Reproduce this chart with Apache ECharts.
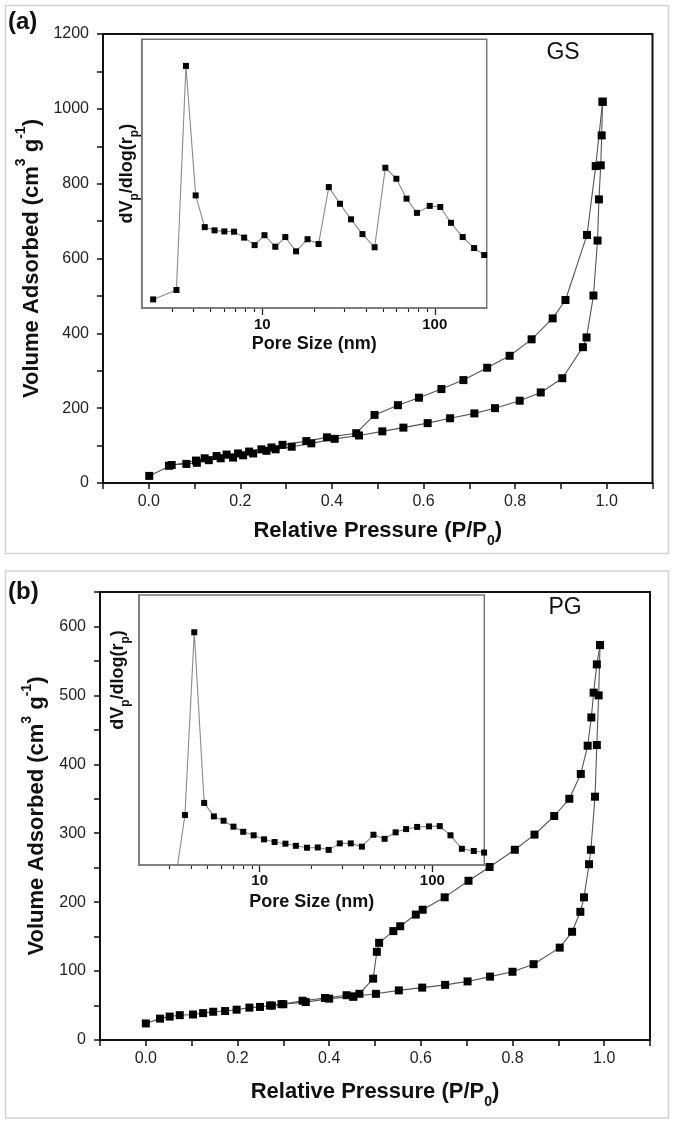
<!DOCTYPE html>
<html>
<head>
<meta charset="utf-8">
<script src="https://cdn.jsdelivr.net/npm/echarts@6/dist/echarts.min.js"></script>
<style>
html,body{margin:0;padding:0;background:#fff;}
#c{width:676px;height:1126px;}
</style>
</head>
<body>
<div id="c"></div>
<script>
// ---------- DATA ----------
// Panel (a) GS isotherm
const gsAdsP = [0.001,0.050,0.082,0.105,0.131,0.157,0.184,0.206,0.228,0.257,0.277,0.312,0.355,0.406,0.459,0.510,0.556,0.609,0.658,0.711,0.756,0.810,0.856,0.903,0.948,0.956,0.971,0.980,0.983,0.987,0.989,0.991];
const gsAdsV = [19,48,51,54,61,66,68,74,79,86,90,97,106,118,127,138,148,160,173,186,200,220,242,280,363,389,501,648,758,849,929,1019];
const gsDesP = [0.991,0.976,0.957,0.910,0.882,0.836,0.788,0.739,0.687,0.639,0.590,0.544,0.493,0.453,0.389,0.344,0.292,0.268,0.246,0.219,0.195,0.170,0.148,0.122,0.103,0.044];
const gsDesV = [1019,847,663,489,440,384,340,308,275,251,228,208,182,133,122,112,102,95,90,84,79,76,72,66,60,46];
// Panel (a) inset: pore size distribution (arbitrary units)
const gsPore = [2.33,3.18,3.61,4.11,4.64,5.29,6.03,6.86,7.85,9.03,10.3,11.9,13.6,15.7,18.3,21.2,24.3,28.2,32.7,38.1,44.8,51.7,59.9,68.6,78.8,93.5,107.6,124.2,145.2,169.1,193.5];
const gsDist = [3.2,6.7,90.1,41.9,30.1,28.9,28.5,28.4,26.2,23.4,27.1,22.8,26.4,21.1,25.6,23.8,45.0,38.8,33.0,27.5,22.6,52.2,48.1,40.7,35.4,38.0,37.6,31.7,26.4,22.3,19.7];
// Panel (b) PG isotherm
const pgAdsP = [0.000,0.031,0.052,0.074,0.103,0.125,0.147,0.173,0.198,0.226,0.249,0.271,0.296,0.349,0.400,0.452,0.502,0.552,0.603,0.653,0.702,0.751,0.800,0.846,0.903,0.930,0.948,0.956,0.967,0.971,0.980,0.984,0.988,0.991];
const pgAdsV = [24,31,34,36,37,39,41,42,44,47,48,50,52,55,60,63,67,72,76,80,85,92,99,110,134,157,186,207,255,276,353,428,500,573];
const pgDesP = [0.991,0.984,0.977,0.972,0.964,0.949,0.924,0.891,0.848,0.805,0.750,0.704,0.652,0.604,0.589,0.555,0.540,0.509,0.504,0.496,0.466,0.453,0.438,0.391,0.342,0.300,0.275];
const pgDesV = [573,545,504,468,427,386,350,325,298,276,251,231,207,189,182,165,158,141,128,89,67,63,65,61,57,52,50];
// Panel (b) inset
const pgPore = [3.26,3.69,4.18,4.77,5.43,6.18,7.05,8.03,9.23,10.6,12.2,14.1,16.2,18.8,21.7,25.1,29.1,33.7,39.1,45.6,52.9,61.3,70.5,81.7,95.7,110.4,127.4,148.3,173.8,199.5];
const pgDist = [-5,18.5,86.2,23.0,18.0,16.4,14.2,12.3,11.0,9.5,8.5,7.9,7.1,6.4,6.5,5.6,8.0,8.0,6.8,11.2,9.7,12.1,13.3,14.1,14.3,14.4,11.0,6.0,5.2,4.6];
// Tick values
const insetMajorTicks = [10, 100];
const insetMinorTicks = [3,4,5,6,7,8,9,20,30,40,50,60,70,80,90];
const panelLabels = ['(a)', '(b)'];
const sampleNames = ['GS', 'PG'];
const xTitle = '{t|Relative Pressure (P/P}{sub|0}{t|)}';
const yTitle = '{t|Volume Adsorbed (cm}{sup|3}{t| g}{sup|-1}{t|)}';
const insetXTitle = 'Pore Size (nm)';
const insetYTitle = '{t|dV}{s|p}{t|/dlog(r}{s|p}{t|)}';

// ---------- HELPERS ----------
const FF = '"Liberation Sans", Arial, sans-serif';
const zip = (a, b) => a.map((v, i) => [v, b[i]]);

const richX = {
  t: {fontFamily: FF, fontSize: 22, fontWeight: 'bold', color: '#111', lineHeight: 22, verticalAlign: 'top'},
  sub: {fontFamily: FF, fontSize: 14, fontWeight: 'bold', color: '#111', lineHeight: 14, padding: [14,0,0,0], verticalAlign: 'top'}
};
const richY = {
  t: {fontFamily: FF, fontSize: 22, fontWeight: 'bold', color: '#111', lineHeight: 22, padding: [6,0,0,0], verticalAlign: 'top'},
  sup: {fontFamily: FF, fontSize: 14, fontWeight: 'bold', color: '#111', lineHeight: 14, verticalAlign: 'top'}
};
const richInY = {
  t: {fontFamily: FF, fontSize: 18, fontWeight: 'bold', color: '#111', lineHeight: 18, verticalAlign: 'top'},
  s: {fontFamily: FF, fontSize: 12, fontWeight: 'bold', color: '#111', lineHeight: 12, padding: [11,0,0,0], verticalAlign: 'top'}
};

function mainX(gridIndex, gap) {
  return {
    type: 'value', gridIndex, min: -0.1, max: 1.1, interval: 0.1,
    axisLine: {show: true, onZero: false, lineStyle: {color: '#111', width: 2}},
    axisTick: {show: true, length: 6, lineStyle: {color: '#111', width: 1.5}},
    axisLabel: {
      fontFamily: FF, fontSize: 16, color: '#222', margin: 11,
      formatter: v => (Math.round(v * 10) % 2 === 0 && v > -0.05 && v < 1.05) ? v.toFixed(1) : ''
    },
    splitLine: {show: false},
    name: xTitle, nameLocation: 'middle', nameGap: gap,
    nameTextStyle: {rich: richX}
  };
}
function mainY(gridIndex, max, labelStep, labelMax) {
  return {
    type: 'value', gridIndex, min: 0, max: max, interval: labelStep / 2,
    axisLine: {show: true, onZero: false, lineStyle: {color: '#111', width: 2}},
    axisTick: {show: true, length: 6, lineStyle: {color: '#111', width: 1.5}},
    axisLabel: {
      fontFamily: FF, fontSize: 16, color: '#222', margin: 14,
      formatter: v => (Math.round(v) % labelStep === 0 && v <= labelMax) ? String(Math.round(v)) : ''
    },
    splitLine: {show: false},
    name: yTitle, nameLocation: 'middle', nameGap: 58,
    nameTextStyle: {rich: richY}
  };
}
function insetXMajor(gridIndex, gap, margin) {
  return {
    type: 'log', logBase: 10, gridIndex, min: 2, max: 200, position: 'bottom',
    axisLine: {show: true, onZero: false, lineStyle: {color: '#777', width: 1.5}},
    axisTick: {show: true, length: 7, customValues: insetMajorTicks, lineStyle: {color: '#222', width: 1.3}},
    axisLabel: {show: true, customValues: insetMajorTicks, fontFamily: FF, fontSize: 15, fontWeight: 'bold', color: '#111', margin: margin},
    splitLine: {show: false}, minorTick: {show: false},
    name: insetXTitle, nameLocation: 'middle', nameGap: gap,
    nameTextStyle: {fontFamily: FF, fontSize: 18, fontWeight: 'bold', color: '#111'}
  };
}
function insetXMinor(gridIndex) {
  return {
    type: 'log', logBase: 10, gridIndex, min: 2, max: 200, position: 'bottom',
    axisLine: {show: false},
    axisTick: {show: true, length: 4, customValues: insetMinorTicks, lineStyle: {color: '#222', width: 1.1}},
    axisLabel: {show: false}, splitLine: {show: false}
  };
}
function insetY(gridIndex, gap, shift) {
  return {
    type: 'value', gridIndex, min: 0, max: 100,
    axisLine: {show: true, lineStyle: {color: '#777', width: 1.5}},
    axisTick: {show: false}, axisLabel: {show: false}, splitLine: {show: false},
    name: insetYTitle, nameLocation: 'middle', nameGap: gap,
    nameTextStyle: {rich: richInY, padding: [0, 0, 0, shift]}
  };
}
function isoSeries(name, xi, yi, P, V) {
  return {
    name, type: 'line', xAxisIndex: xi, yAxisIndex: yi,
    data: zip(P, V), symbol: 'rect', symbolSize: 8, showSymbol: true,
    itemStyle: {color: '#000'}, lineStyle: {color: '#555', width: 1.1},
    clip: false, z: 3
  };
}
function psdSeries(name, xi, yi, D, Y, size) {
  return {
    name, type: 'line', xAxisIndex: xi, yAxisIndex: yi,
    data: zip(D, Y), symbol: 'rect', symbolSize: size, showSymbol: true,
    itemStyle: {color: '#000'}, lineStyle: {color: '#8a8a8a', width: 1.1},
    clip: true, z: 4
  };
}

const chart = echarts.init(document.getElementById('c'), null, {renderer: 'canvas'});
chart.setOption({
  animation: false,
  backgroundColor: '#fff',
  grid: [
    {left: 103, top: 34, width: 549.5, height: 449, show: true, borderColor: '#111', borderWidth: 2, backgroundColor: 'transparent'},
    {left: 141.7, top: 39.3, width: 345, height: 268.7, show: true, borderColor: '#777', borderWidth: 1.5, backgroundColor: 'transparent', z: 3},
    {left: 100, top: 592, width: 550, height: 448, show: true, borderColor: '#111', borderWidth: 2, backgroundColor: 'transparent'},
    {left: 139, top: 595, width: 345.3, height: 270, show: true, borderColor: '#777', borderWidth: 1.5, backgroundColor: 'transparent', z: 3}
  ],
  xAxis: [
    mainX(0, 37),
    insetXMajor(1, 27, 9),
    insetXMinor(1),
    mainX(2, 41),
    insetXMajor(3, 28, 8),
    insetXMinor(3)
  ],
  yAxis: [
    mainY(0, 1200, 200, 1200),
    insetY(1, 6, 0),
    mainY(2, 650, 100, 600),
    insetY(3, 12, 100)
  ],
  series: [
    isoSeries('GS adsorption', 0, 0, gsAdsP, gsAdsV),
    isoSeries('GS desorption', 0, 0, gsDesP, gsDesV),
    psdSeries('GS PSD', 1, 1, gsPore, gsDist, 6),
    isoSeries('PG adsorption', 3, 2, pgAdsP, pgAdsV),
    isoSeries('PG desorption', 3, 2, pgDesP, pgDesV),
    psdSeries('PG PSD', 4, 3, pgPore, pgDist, 6)
  ],
  graphic: [
    {type: 'rect', z: -10, shape: {x: 5.5, y: 5.5, width: 663, height: 548}, style: {fill: 'none', stroke: '#d2d2d2', lineWidth: 1.5}},
    {type: 'rect', z: -10, shape: {x: 5.5, y: 571, width: 663, height: 547}, style: {fill: 'none', stroke: '#d2d2d2', lineWidth: 1.5}},
    {type: 'text', x: 8, y: 22, style: {text: panelLabels[0], font: 'bold 24px ' + FF, fill: '#111', align: 'left', verticalAlign: 'middle', textAlign: 'left', textVerticalAlign: 'middle'}},
    {type: 'text', x: 8, y: 592, style: {text: panelLabels[1], font: 'bold 24px ' + FF, fill: '#111', align: 'left', verticalAlign: 'middle', textAlign: 'left', textVerticalAlign: 'middle'}},
    {type: 'text', x: 563, y: 53, style: {text: sampleNames[0], font: '23px ' + FF, fill: '#111', align: 'center', verticalAlign: 'middle', textAlign: 'center', textVerticalAlign: 'middle'}},
    {type: 'text', x: 565, y: 608, style: {text: sampleNames[1], font: '23px ' + FF, fill: '#111', align: 'center', verticalAlign: 'middle', textAlign: 'center', textVerticalAlign: 'middle'}}
  ]
});
</script>
</body>
</html>
